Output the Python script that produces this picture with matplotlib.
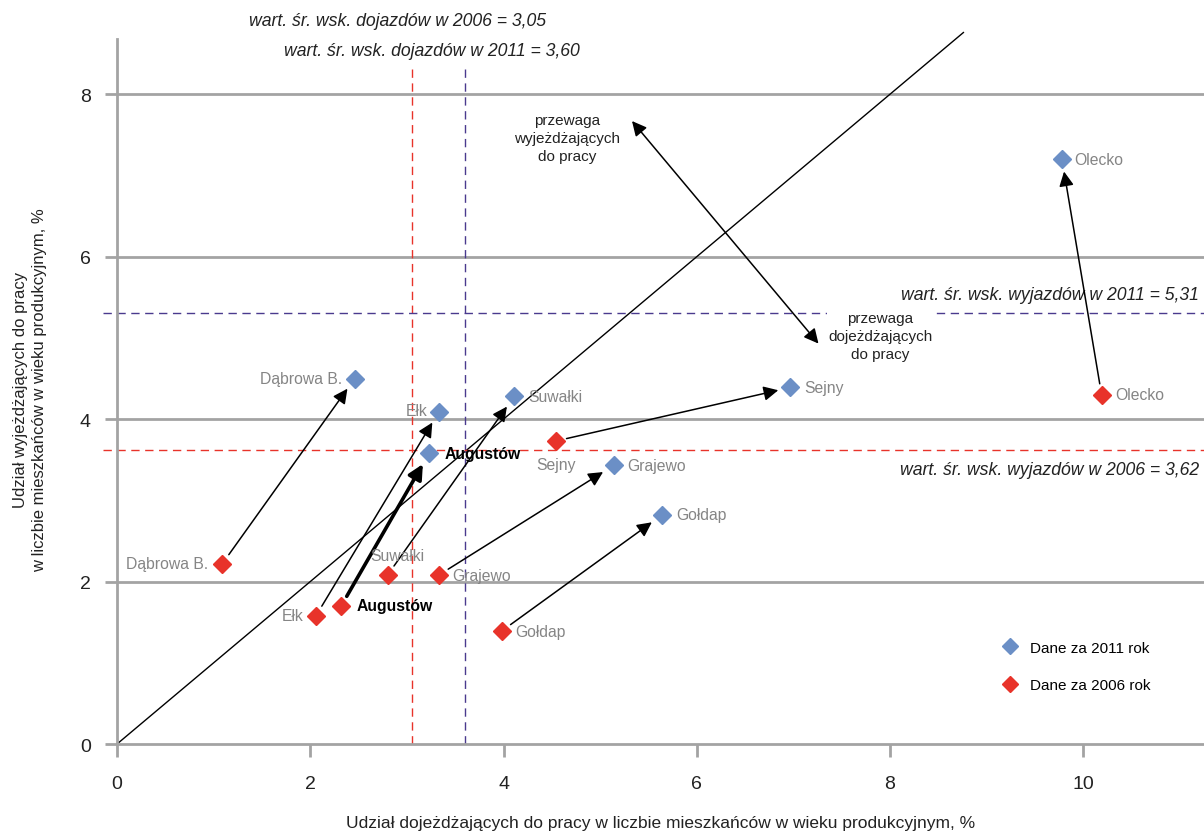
# -*- coding: utf-8 -*-
import matplotlib
matplotlib.use('Agg')
import matplotlib.pyplot as plt

plt.rcParams['font.family'] = ['Liberation Sans', 'DejaVu Sans']

# dane: udział dojeżdżających (x) i wyjeżdżających (y), %
towns = ['Olecko', 'Dąbrowa B.', 'Ełk', 'Suwałki', 'Augustów', 'Sejny', 'Grajewo', 'Gołdap']
x2011 = [9.78, 2.46, 3.33, 4.11, 3.23, 6.97, 5.14, 5.64]
y2011 = [7.20, 4.50, 4.09, 4.28, 3.58, 4.39, 3.43, 2.82]
x2006 = [10.19, 1.09, 2.06, 2.80, 2.32, 4.54, 3.33, 3.98]
y2006 = [4.30, 2.22, 1.58, 2.08, 1.70, 3.73, 2.08, 1.39]

mean_in_2006, mean_in_2011 = 3.05, 3.60
mean_out_2006, mean_out_2011 = 3.62, 5.31
x_ticks = [0, 2, 4, 6, 8, 10]
y_ticks = [0, 2, 4, 6, 8]

BLUE = '#6b8fc6'
RED = '#e8332a'
PURPLE = '#4a3a8e'
GRAY = '#a3a3a3'
LABEL = '#858585'

# przesunięcia etykiet (pkt) i wyrównanie
off2011 = {'Olecko': (9, 0, 'left'), 'Dąbrowa B.': (-9, 0, 'right'), 'Ełk': (-8, 1, 'right'),
           'Suwałki': (10, 0, 'left'), 'Augustów': (11, 0, 'left'), 'Sejny': (10, 0, 'left'),
           'Grajewo': (10, 0, 'left'), 'Gołdap': (10, 0, 'left')}
off2006 = {'Olecko': (10, 0, 'left'), 'Dąbrowa B.': (-10, 0, 'right'), 'Ełk': (-9, 0, 'right'),
           'Suwałki': (7, 14, 'center'), 'Augustów': (11, 0, 'left'), 'Sejny': (0, -17, 'center'),
           'Grajewo': (10, 0, 'left'), 'Gołdap': (10, 0, 'left')}

fig = plt.figure(figsize=(12.04, 8.37), dpi=100)
ax = fig.add_axes([0.0972, 0.1099, 0.9028, 0.8423])
ax.set_xlim(0, 11.25)
ax.set_ylim(0, 8.68)

for s in ['top', 'right']:
    ax.spines[s].set_visible(False)
for s in ['left', 'bottom']:
    ax.spines[s].set_color(GRAY)
    ax.spines[s].set_linewidth(2)

ax.set_xticks(x_ticks)
ax.set_yticks(y_ticks)
ax.tick_params(axis='both', colors=GRAY, width=2, length=9, labelcolor='#222222', labelsize=14)
ax.tick_params(axis='x', pad=13)
ax.tick_params(axis='y', pad=10)

# linie siatki
for yv in y_ticks[1:]:
    ax.axhline(yv, color=GRAY, lw=2, zorder=1)

# linia y = x
ax.plot([0, 8.76], [0, 8.76], color='black', lw=1, clip_on=False, zorder=2)

# średnie
dash = (0, (6, 4))
ax.plot([mean_in_2006, mean_in_2006], [0, 8.33], color=RED, lw=1, ls=dash, zorder=2)
ax.plot([mean_in_2011, mean_in_2011], [0, 8.33], color=PURPLE, lw=1, ls=dash, zorder=2)
ax.plot([-0.15, 11.25], [mean_out_2006, mean_out_2006], color=RED, lw=1, ls=dash, clip_on=False, zorder=2)
ax.plot([-0.15, 11.25], [mean_out_2011, mean_out_2011], color=PURPLE, lw=1, ls=dash, clip_on=False, zorder=2)

it = dict(style='italic', fontsize=12.7, color='#222222')
ax.text(2.9, 8.91, 'wart. śr. wsk. dojazdów w 2006 = 3,05', ha='center', va='center', **it)
ax.text(3.26, 8.54, 'wart. śr. wsk. dojazdów w 2011 = 3,60', ha='center', va='center', **it)
ax.text(11.2, 5.54, 'wart. śr. wsk. wyjazdów w 2011 = 5,31', ha='right', va='center', **it)
ax.text(11.2, 3.38, 'wart. śr. wsk. wyjazdów w 2006 = 3,62', ha='right', va='center', **it)

# strzałki 2006 -> 2011
for i, t in enumerate(towns):
    lw = 2.6 if t == 'Augustów' else 1.1
    ax.annotate('', xy=(x2011[i], y2011[i]), xytext=(x2006[i], y2006[i]),
                arrowprops=dict(arrowstyle='-|>', color='black', lw=lw, shrinkA=8, shrinkB=9,
                                mutation_scale=22), zorder=3)

ax.plot(x2011, y2011, 'D', color=BLUE, ms=9, ls='none', zorder=4, label='Dane za 2011 rok')
ax.plot(x2006, y2006, 'D', color=RED, ms=9, ls='none', zorder=4, label='Dane za 2006 rok')

for i, t in enumerate(towns):
    for xs, ys, off in [(x2011, y2011, off2011), (x2006, y2006, off2006)]:
        dx, dy, ha = off[t]
        bold = t == 'Augustów'
        ax.annotate(t, (xs[i], ys[i]), xytext=(dx, dy), textcoords='offset points',
                    ha=ha, va='center', fontsize=11.3,
                    color='black' if bold else LABEL, fontweight='bold' if bold else 'normal',
                    zorder=5)

# przewaga - strzałka dwustronna
ax.annotate('', xy=(5.33, 7.67), xytext=(7.26, 4.93),
            arrowprops=dict(arrowstyle='<|-|>', color='black', lw=1.1, mutation_scale=22,
                            shrinkA=0, shrinkB=0), zorder=3)
pz = dict(ha='center', va='center', fontsize=11, linespacing=1.35, color='#222222')
ax.text(4.66, 7.46, 'przewaga\nwyjeżdżających\ndo pracy', **pz)
ax.text(7.90, 5.02, 'przewaga\ndojeżdżających\ndo pracy', zorder=3,
        bbox=dict(facecolor='white', edgecolor='none', pad=1), **pz)

ax.legend(loc='upper left', bbox_to_anchor=(0.795, 0.166), frameon=False,
          handletextpad=0.3, labelspacing=1.55, markerscale=0.85, prop={'size': 11})

ax.set_xlabel('Udział dojeżdżających do pracy w liczbie mieszkańców w wieku produkcyjnym, %',
              fontsize=12.5, labelpad=17, color='#222222')
fig.text(0.025, 0.534, 'Udział wyjeżdżających do pracy\nw liczbie mieszkańców w wieku produkcyjnym, %',
         rotation=90, ha='center', va='center', fontsize=12, color='#222222', linespacing=1.3)

fig.savefig('out.png', dpi=100)
